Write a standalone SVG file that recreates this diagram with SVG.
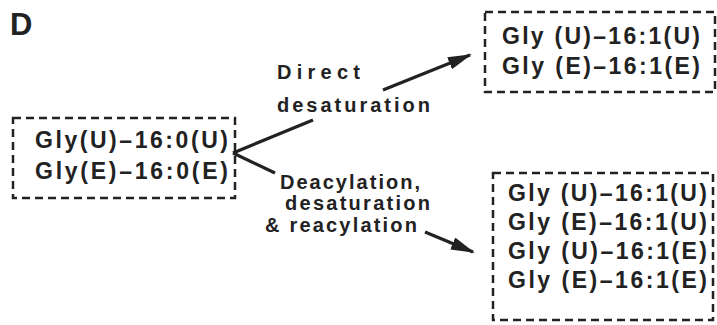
<svg xmlns="http://www.w3.org/2000/svg" width="717" height="325" viewBox="0 0 717 325">
<style>
.box{fill:none;stroke:#222;stroke-width:2.5;stroke-dasharray:8 5}
.t{font-family:"Liberation Sans",Arial,sans-serif;font-weight:bold;font-size:23px;fill:#222}
.l{font-family:"Liberation Sans",Arial,sans-serif;font-weight:bold;font-size:20px;fill:#222}
.c{stroke:#222;stroke-width:3.2;fill:none}
</style>
<defs>
<marker id="ah" markerWidth="24" markerHeight="13" refX="22" refY="6.5" orient="auto" markerUnits="userSpaceOnUse">
<path d="M0,0 L24,6.5 L0,13 Z" fill="#222"/>
</marker>
</defs>
<rect width="717" height="325" fill="#fff"/>
<text x="10" y="35" class="t" style="font-size:31px">D</text>
<g id="src">
<rect class="box" x="13" y="118" width="222" height="80"/>
<text class="t" x="35" y="148" textLength="193" lengthAdjust="spacing">Gly(U)–16:0(U)</text>
<text class="t" x="35" y="179" textLength="193" lengthAdjust="spacing">Gly(E)–16:0(E)</text>
</g>
<g id="direct">
<rect class="box" x="485" y="12" width="230" height="80"/>
<text class="t" x="502" y="44" textLength="198" lengthAdjust="spacing">Gly (U)–16:1(U)</text>
<text class="t" x="502" y="74" textLength="198" lengthAdjust="spacing">Gly (E)–16:1(E)</text>
</g>
<g id="reacyl">
<rect class="box" x="493" y="173" width="220" height="147"/>
<text class="t" x="508" y="201" textLength="199" lengthAdjust="spacing">Gly (U)–16:1(U)</text>
<text class="t" x="508" y="230" textLength="199" lengthAdjust="spacing">Gly (E)–16:1(U)</text>
<text class="t" x="508" y="259" textLength="199" lengthAdjust="spacing">Gly (U)–16:1(E)</text>
<text class="t" x="508" y="288" textLength="199" lengthAdjust="spacing">Gly (E)–16:1(E)</text>
</g>
<g id="connectors">
<path class="c" d="M233,153 L313,120"/>
<path class="c" d="M383,90 L470,55" marker-end="url(#ah)"/>
<path class="c" d="M233,153 L275,173"/>
<path class="c" d="M425,232 L473,252" marker-end="url(#ah)"/>
<text class="l" x="277" y="79" textLength="83" lengthAdjust="spacing">Direct</text>
<text class="l" x="277" y="112" textLength="153" lengthAdjust="spacing">desaturation</text>
<text class="l" x="280" y="189" textLength="140" lengthAdjust="spacing">Deacylation,</text>
<text class="l" x="285" y="210" textLength="145" lengthAdjust="spacing">desaturation</text>
<text class="l" x="265" y="232" textLength="152" lengthAdjust="spacing">&amp; reacylation</text>
</g>
</svg>
